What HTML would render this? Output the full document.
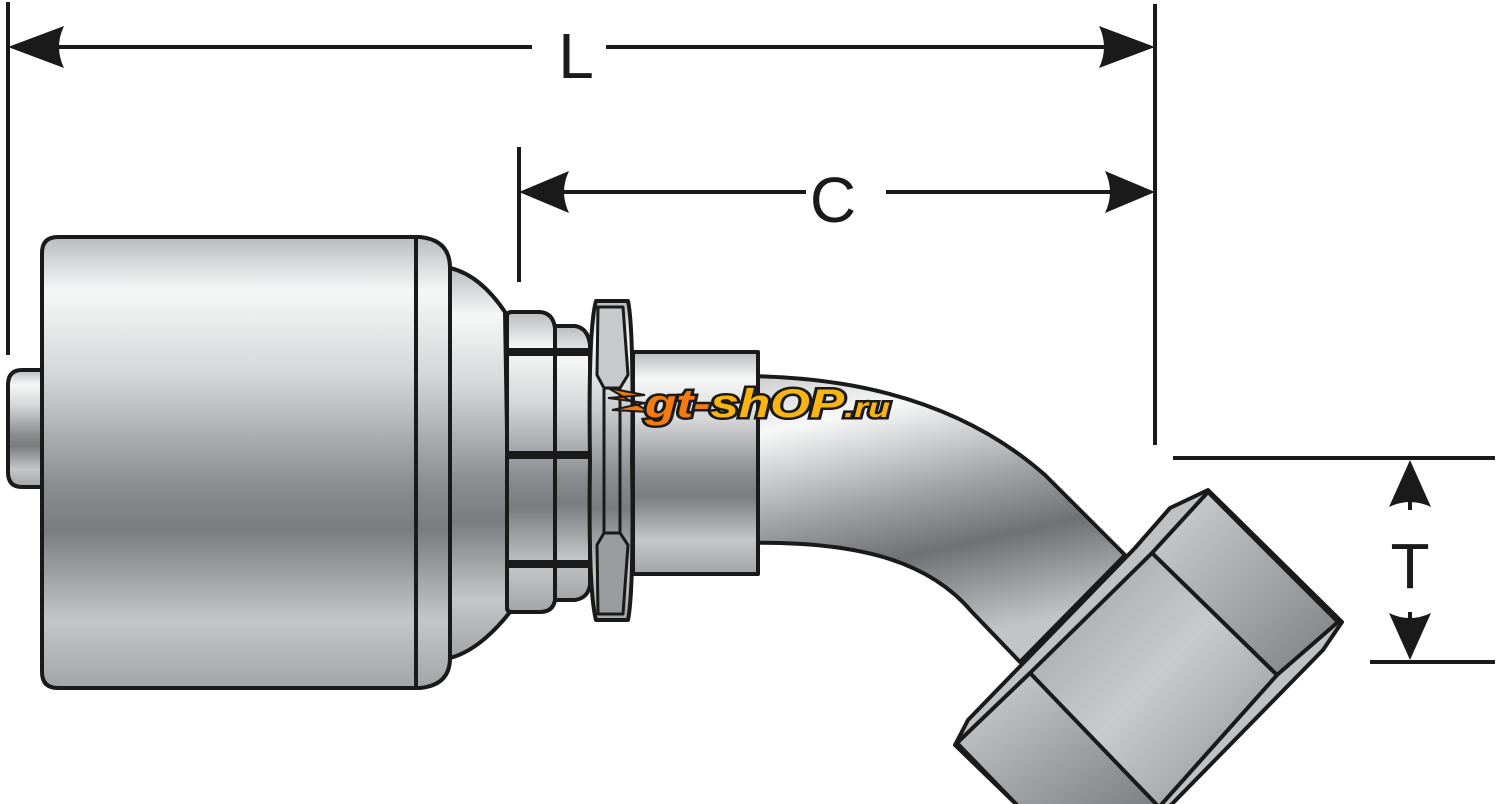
<!DOCTYPE html>
<html><head><meta charset="utf-8"><style>html,body{margin:0;padding:0;background:#fff}svg{display:block}</style></head>
<body>
<svg width="1500" height="804" viewBox="0 0 1500 804" xmlns="http://www.w3.org/2000/svg">
<defs>
<linearGradient id="m" x1="0" y1="0" x2="0" y2="1">
<stop offset="0" stop-color="#b9bbbd"/><stop offset="0.12" stop-color="#f6f7f7"/><stop offset="0.3" stop-color="#d6d7d8"/>
<stop offset="0.55" stop-color="#8a8c8f"/><stop offset="0.65" stop-color="#7a7c7f"/><stop offset="0.85" stop-color="#c4c6c8"/><stop offset="1" stop-color="#a2a4a6"/>
</linearGradient>
<linearGradient id="t" x1="0" y1="0" x2="0.3" y2="1">
<stop offset="0" stop-color="#c9cacb"/><stop offset="0.2" stop-color="#f7f8f8"/><stop offset="0.5" stop-color="#a0a2a4"/>
<stop offset="0.7" stop-color="#6f7174"/><stop offset="1" stop-color="#c2c4c6"/>
</linearGradient>
<linearGradient id="n" x1="0" y1="0" x2="1" y2="1">
<stop offset="0" stop-color="#d2d3d4"/><stop offset="0.5" stop-color="#a6a8aa"/><stop offset="1" stop-color="#7d7f82"/>
</linearGradient>
<linearGradient id="n2" x1="0" y1="0" x2="1" y2="1">
<stop offset="0" stop-color="#9c9ea0"/><stop offset="0.5" stop-color="#c9cacc"/><stop offset="1" stop-color="#8d8f92"/>
</linearGradient>
</defs>
<g stroke="#1a1a1a" stroke-width="4" fill="none">
<line x1="8" y1="2" x2="8" y2="355"/>
<line x1="1155" y1="4" x2="1155" y2="445"/>
<line x1="40" y1="47" x2="532" y2="47"/>
<line x1="606" y1="47" x2="1120" y2="47"/>
<line x1="519" y1="147" x2="519" y2="282"/>
<line x1="550" y1="192" x2="806" y2="192"/>
<line x1="886" y1="192" x2="1120" y2="192"/>
<line x1="1173" y1="458" x2="1495" y2="458"/>
<line x1="1370" y1="662" x2="1495" y2="662"/>
<line x1="1410" y1="495" x2="1410" y2="510"/>
<line x1="1410" y1="612" x2="1410" y2="630"/>
</g>
<g fill="#1a1a1a">
<path d="M8,47 L64,26 Q54,47 64,68 Z"/>
<path d="M1155,47 L1099,26 Q1109,47 1099,68 Z"/>
<path d="M519,192 L569,171 Q559,192 569,213 Z"/>
<path d="M1155,192 L1105,171 Q1115,192 1105,213 Z"/>
<path d="M1410,460 L1389,507 Q1410,497 1431,507 Z"/>
<path d="M1410,660 L1389,613 Q1410,623 1431,613 Z"/>
</g>
<g font-family="Liberation Sans, sans-serif" font-size="64" fill="#1a1a1a" text-anchor="middle">
<text x="576" y="78">L</text>
<text x="833" y="222">C</text>
<text x="1410" y="588">T</text>
</g>
<g stroke="#1a1a1a" stroke-width="4" stroke-linejoin="round">
<!-- tube -->
<path d="M740,376 C850,376 960,400 1045,475 L1125,555 L1020,662 L972,612 C930,562 860,540 740,543 Z" fill="url(#t)"/>
<!-- nut -->
<path d="M1208,490 L1342,622 L1323,650 L1170,806 L1018,806 L955,745 L968,720 L1135,548 L1170,508 Z" fill="#bfc1c3"/>
<path d="M1152,553 L1208,492 L1338,622 L1277,675 Z" fill="url(#n)"/>
<path d="M1030,673 L1152,553 L1277,675 L1160,806 L1156,806 Z" fill="url(#n2)"/>
<path d="M957,743 L1030,673 L1158,806 L1018,806 Z" fill="url(#n)"/>
</g>
<g stroke="#1a1a1a" stroke-width="4" stroke-linejoin="round">
<!-- left stub -->
<path d="M46,370 L22,370 Q8,370 8,385 L8,472 Q8,487 22,487 L46,487 Z" fill="url(#m)"/>
<!-- ferrule -->
<path d="M58,237 L420,237 Q450,240 450,268 L450,658 Q450,685 420,688 L58,688 Q42,688 42,672 L42,253 Q42,237 58,237 Z" fill="url(#m)"/>
<line x1="416" y1="237" x2="416" y2="688"/>
<path d="M450,268 Q480,275 505,312 L510,612 Q480,650 450,658 Z" fill="url(#m)"/>
<path d="M507,316 Q507,312 512,312 L540,312 Q553,313 555,328 L555,600 Q553,612 540,612 L512,612 Q507,612 507,608 Z" fill="url(#m)"/>
<line x1="507" y1="352" x2="555" y2="352" stroke-width="8"/>
<line x1="507" y1="455" x2="555" y2="455" stroke-width="8"/>
<line x1="507" y1="564" x2="555" y2="564" stroke-width="8"/>
<path d="M555,326 L575,326 Q588,328 590,345 L590,585 Q588,598 575,600 L555,600 Z" fill="url(#m)"/>
<line x1="555" y1="352" x2="590" y2="352" stroke-width="8"/>
<line x1="555" y1="455" x2="590" y2="455" stroke-width="8"/>
<line x1="555" y1="564" x2="590" y2="564" stroke-width="8"/>
<path d="M596,301 L628,301 Q634,330 632,460 Q634,590 628,620 L596,620 Q588,590 590,460 Q588,330 596,301 Z" fill="url(#m)"/>
<path d="M598,307 L623,307 L628,375 L620,388 L604,388 L597,375 Z" fill="#c8c9cb" stroke-width="3"/>
<path d="M598,614 L623,614 L628,545 L620,533 L604,533 L597,545 Z" fill="#9a9c9f" stroke-width="3"/>
<line x1="604" y1="388" x2="604" y2="533" stroke-width="3"/>
<line x1="620" y1="388" x2="620" y2="533" stroke-width="3"/>
<rect x="633" y="352" width="125" height="222" fill="url(#m)"/>
</g>
<g font-family="Liberation Sans, sans-serif" font-weight="bold" font-style="italic" font-size="40">
<path d="M608,388 L645,395 L608,398 L645,403 L612,410 L650,412 Z" fill="#f47a12" stroke="#1a1a1a" stroke-width="2"/>
<text x="645" y="417" fill="#f47a12" stroke="#1a1a1a" stroke-width="5" paint-order="stroke" textLength="245" lengthAdjust="spacingAndGlyphs">gt-<tspan fill="#f8b410">shOP</tspan><tspan fill="#f8b410" font-size="28">.ru</tspan></text>
</g>
</svg>
</body></html>
